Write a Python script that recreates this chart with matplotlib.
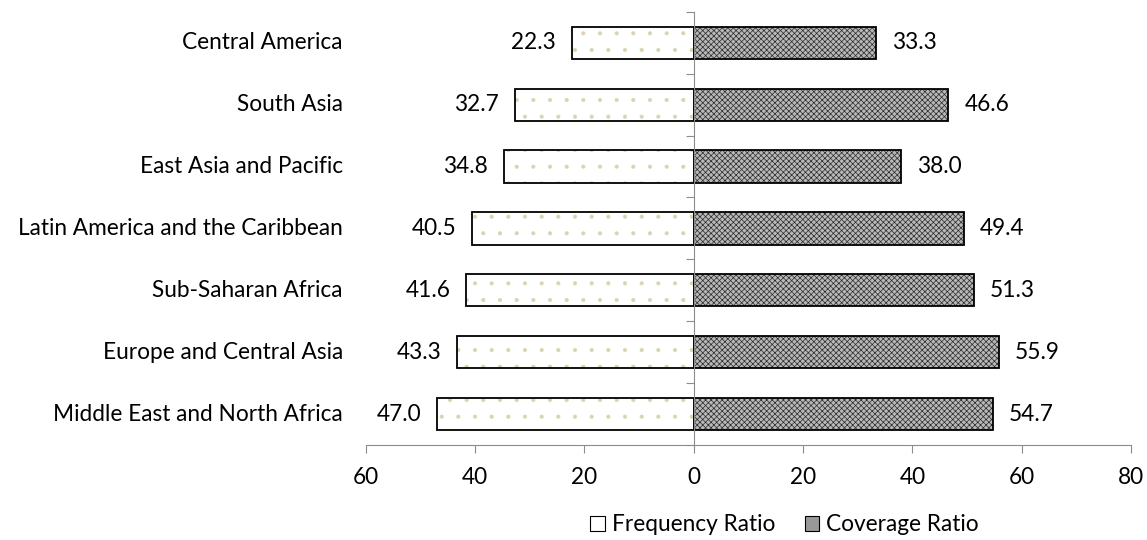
import matplotlib
matplotlib.use("Agg")
import matplotlib.pyplot as plt
import matplotlib.colors as mcolors
import numpy as np
from matplotlib.patches import Patch
from matplotlib.transforms import blended_transform_factory

regions = [
    "Central America",
    "South Asia",
    "East Asia and Pacific",
    "Latin America and the Caribbean",
    "Sub-Saharan Africa",
    "Europe and Central Asia",
    "Middle East and North Africa",
]
frequency_ratio = [22.3, 32.7, 34.8, 40.5, 41.6, 43.3, 47.0]
coverage_ratio = [33.3, 46.6, 38.0, 49.4, 51.3, 55.9, 54.7]
x_ticks = [-60, -40, -20, 0, 20, 40, 60, 80]

plt.rcParams["font.family"] = ["Lato", "DejaVu Sans"]
plt.rcParams["hatch.linewidth"] = 0.5

fig = plt.figure(figsize=(11.47, 5.4), dpi=100)
ax = fig.add_axes([0.319, 0.176, 0.667, 0.802])

n = len(regions)
y = np.arange(n)[::-1]
h = 0.52
freq = np.array(frequency_ratio)
cov = np.array(coverage_ratio)

bars_freq = ax.barh(y, -freq, height=h, color="white", edgecolor="black",
                    linewidth=1.3, zorder=2)
for b in bars_freq:
    b.set_hatch(".")
    b._hatch_color = mcolors.to_rgba("#ddd2b4")

bars_cov = ax.barh(y, cov, height=h, color="#b8b8b8", edgecolor="black",
                   linewidth=1.3, zorder=2)
for b in bars_cov:
    b.set_hatch("xxxxxx")
    b._hatch_color = mcolors.to_rgba("#2a2a2a")

fs = 16.3
pad = 2.9
for yi, f, c in zip(y, freq, cov):
    ax.text(-f - pad, yi, f"{f:.1f}", ha="right", va="center", fontsize=fs)
    ax.text(c + pad, yi, f"{c:.1f}", ha="left", va="center", fontsize=fs)

ax.set_xlim(-60, 80)
ax.set_ylim(-0.5, n - 0.5)
ax.set_xticks(x_ticks)
ax.set_xticklabels([str(abs(t)) for t in x_ticks], fontsize=fs)
ax.tick_params(axis="x", direction="out", length=6, color="#8c8c8c", pad=10)

ax.spines["top"].set_visible(False)
ax.spines["right"].set_visible(False)
ax.spines["bottom"].set_color("#8c8c8c")
ax.spines["left"].set_color("#8c8c8c")
ax.spines["left"].set_position(("data", 0))
ax.spines["left"].set_zorder(3)

ax.set_yticks(np.arange(-0.5, n, 1.0))
ax.set_yticklabels([])
ax.tick_params(axis="y", direction="out", length=6, color="#8c8c8c")

tr = blended_transform_factory(ax.transAxes, ax.transData)
for yi, name in zip(y, regions):
    ax.text(-0.03, yi, name, ha="right", va="center", fontsize=fs, transform=tr)

handles = [
    Patch(facecolor="white", edgecolor="black", linewidth=0.8),
    Patch(facecolor="#999999", edgecolor="black", linewidth=0.8),
]
fig.legend(handles, ["Frequency Ratio", "Coverage Ratio"], loc="center",
           bbox_to_anchor=(0.684, 0.028), ncol=2, frameon=False, fontsize=fs,
           handlelength=0.65, handleheight=0.65, handletextpad=0.3, columnspacing=1.3)

fig.savefig("out.png", dpi=100)
